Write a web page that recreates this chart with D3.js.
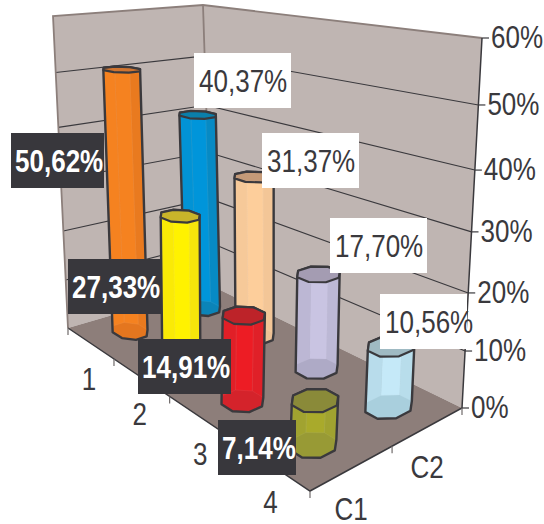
<!DOCTYPE html>
<html>
<head>
<meta charset="utf-8">
<script src="https://cdn.jsdelivr.net/npm/d3@7"></script>
<style>
  body { margin: 0; background: #fff; }
  text { font-family: "Liberation Sans", Arial, sans-serif; font-size: 31px; }
</style>
</head>
<body>
<svg id="chart" width="544" height="524"></svg>
<script>
// Data
var rowNames = ["1", "2", "3", "4"];
var seriesNames = ["C1", "C2"];
var c1Values = [50.62, 27.33, 14.91, 7.14];
var c2Values = [40.37, 31.37, 17.70, 10.56];
var pctTicks = [0, 10, 20, 30, 40, 50, 60];

var c1Body = ["#f58220", "#fff200", "#ed1c24", "#a9aa2b"];
var c1Edge = ["#e4761f", "#f0dd12", "#d4232b", "#989a35"];
var c1Cap = ["#cf7430", "#c8b42a", "#bd2329", "#8a8a39"];
var c2Body = ["#0095da", "#fdce9b", "#c9c4e2", "#c5e9f8"];
var c2Edge = ["#0b84b8", "#edc195", "#aeaac6", "#a9cfdd"];
var c2Cap = ["#0a7fab", "#c49a78", "#a49cb2", "#9fbac3"];

var svg = d3.select("#chart");
var dark = "#3a393d";

// corners of the 3d box on screen: floor first, then the 60% plane
var floorBox = { a: [68, 328], b: [310, 491], c: [462, 408], d: [212, 286] };
var topBox = { a: [53, 16], b: [332, 49], c: [482, 38], d: [203, 5] };

// rows run along the left floor edge, series along the right one.
// Bands get wider toward the viewer, and so do the upper value steps
var uScale = d3.scaleLinear().domain([0.5, 1.5, 2.5, 3.5, 4.5]).range([0, 0.19, 0.42, 0.69, 1]);
var vScale = d3.scaleLinear().domain([0.5, 1.5, 2.5]).range([0, 0.54, 1]);
var wScale = d3.scaleLinear().domain(pctTicks).range([0, 0.154, 0.311, 0.476, 0.643, 0.819, 1]);
var sizeScale = d3.scaleLinear().domain([0, 1]).range([0.8, 1.12]);

function bilinear(box, u, v) {
  return [0, 1].map(function(i) {
    var near = box.a[i] + (box.b[i] - box.a[i]) * u;
    var far = box.d[i] + (box.c[i] - box.d[i]) * u;
    return near + (far - near) * v;
  });
}

function project(u, v, w) {
  var p0 = bilinear(floorBox, u, v);
  var p1 = bilinear(topBox, u, v);
  return [p0[0] + (p1[0] - p0[0]) * w, p0[1] + (p1[1] - p0[1]) * w];
}

var line = d3.line();
function poly(pts) { return line(pts) + "Z"; }

// Walls and floor
svg.append("path")
  .attr("d", poly([project(0, 0, 0), project(0, 0, 1), project(0, 1, 1), project(0, 1, 0)]))
  .attr("fill", "#bfb5b2");
svg.append("path")
  .attr("d", poly([project(0, 1, 0), project(0, 1, 1), project(1, 1, 1), project(1, 1, 0)]))
  .attr("fill", "#bfb5b2");
svg.append("path")
  .attr("d", poly([project(0, 0, 0), project(1, 0, 0), project(1, 1, 0), project(0, 1, 0)]))
  .attr("fill", "#8d7e7a");

// gridlines across both walls
svg.append("g").selectAll("path")
  .data(pctTicks.filter(function(d) { return d > 0 && d < 60; }))
  .enter()
  .append("path")
    .attr("d", function(d) {
      var w = wScale(d);
      return line([project(0, 0, w), project(0, 1, w), project(1, 1, w)]);
    })
    .attr("fill", "none")
    .attr("stroke", dark)
    .attr("stroke-width", 1.1);

// wall frame
svg.append("path")
  .attr("d", line([project(0, 0, 0), project(0, 0, 1), project(0, 1, 1), project(1, 1, 1)]))
  .attr("fill", "none")
  .attr("stroke", "#8c7f7b")
  .attr("stroke-width", 1.8);
svg.append("path")
  .attr("d", line([project(0, 1, 1), project(0, 1, 0)]))
  .attr("stroke", "#8c7f7b")
  .attr("stroke-width", 1.8);
svg.append("path")
  .attr("d", line([project(1, 1, 1), project(1, 1, 0), project(1, 0, 0), project(0, 0, 0)]))
  .attr("fill", "none")
  .attr("stroke", dark)
  .attr("stroke-width", 1.5);

// Value axis
pctTicks.forEach(function(d) {
  var p = project(1, 1, wScale(d));
  svg.append("path")
    .attr("d", line([p, [p[0] + 7, p[1]]]))
    .attr("stroke", dark)
    .attr("stroke-width", 1.2);
  label(d + "%", p[0] + 9, p[1] + 10, "start", dark, false);
});

// Floor ticks and category names
var tickColor = "#6f6a6a";
[0.5, 1.5, 2.5, 3.5, 4.5].forEach(function(d) {
  var p = project(uScale(d), 0, 0);
  svg.append("path")
    .attr("d", line([p, [p[0], p[1] + 7]]))
    .attr("stroke", tickColor)
    .attr("stroke-width", 1.2);
});
[1.5, 2.5].forEach(function(d) {
  var p = project(1, vScale(d), 0);
  svg.append("path")
    .attr("d", line([p, [p[0], p[1] + 7]]))
    .attr("stroke", tickColor)
    .attr("stroke-width", 1.2);
});

rowNames.forEach(function(d, i) {
  var p = project(uScale(i + 1), 0, 0);
  label(d, p[0] - 2, p[1] + 47, "middle", dark, false);
});
seriesNames.forEach(function(d, i) {
  var p = project(1, vScale(i + 1), 0);
  label(d, p[0], p[1] + 51, "middle", dark, false);
});

// Bars, drawn from the back of the box to the front
var bars = [];
rowNames.forEach(function(d, i) {
  bars.push({ row: i + 1, col: 2, value: c2Values[i], body: c2Body[i], edge: c2Edge[i], cap: c2Cap[i] });
  bars.push({ row: i + 1, col: 1, value: c1Values[i], body: c1Body[i], edge: c1Edge[i], cap: c1Cap[i] });
});

var sides = d3.range(8);
bars.forEach(function(b) {
  var u = uScale(b.row), v = vScale(b.col), w = wScale(b.value);
  var k = sizeScale(u);
  var ring = function(h) {
    return sides.map(function(i) {
      var t = (i + 0.5) * Math.PI / 4;
      return project(u + 0.06 * k * Math.cos(t), v + 0.115 * k * Math.sin(t), h);
    });
  };
  var low = ring(0), high = ring(w);
  var g = svg.append("g");
  var hull = d3.polygonHull(low.concat(high));
  var xs = d3.extent(hull, function(p) { return p[0]; });
  var mid = (xs[0] + xs[1]) / 2, half = (xs[1] - xs[0]) / 2;

  g.append("path").attr("d", poly(hull)).attr("fill", b.edge);

  sides.forEach(function(i) {
    var j = (i + 1) % 8;
    var quad = [low[i], low[j], high[j], high[i]];
    if (d3.polygonArea(quad) >= 0) return;
    var cx = (low[i][0] + low[j][0]) / 2;
    var s = Math.min(1, 1.5 * (1 - Math.abs(cx - mid) / half));
    g.append("path")
      .attr("d", poly(quad))
      .attr("fill", d3.interpolateRgb(b.edge, b.body)(s))
      .attr("stroke", d3.interpolateRgb(b.edge, "#fff")(0.25))
      .attr("stroke-opacity", 0.35)
      .attr("stroke-width", 0.7);
  });

  g.append("path")
    .attr("d", poly(hull))
    .attr("fill", "none")
    .attr("stroke", dark)
    .attr("stroke-width", 2.4)
    .attr("stroke-linejoin", "round");
  g.append("path")
    .attr("d", poly(high))
    .attr("fill", b.cap)
    .attr("stroke", dark)
    .attr("stroke-width", 2.2)
    .attr("stroke-linejoin", "round");
});

// Value boxes, placed by hand so they clear the bars
function formatPct(v) { return v.toFixed(2).replace(".", ",") + "%"; }

valueBox(c1Values[0], 11, 133, 93, 55, true);
valueBox(c1Values[1], 68, 259, 94, 55, true);
valueBox(c1Values[2], 138, 339, 93, 55, true);
valueBox(c1Values[3], 218, 420, 78, 55, true);
valueBox(c2Values[0], 194, 53, 97, 55, false);
valueBox(c2Values[1], 262, 133, 97, 55, false);
valueBox(c2Values[2], 330, 218, 97, 55, false);
valueBox(c2Values[3], 380, 294, 87, 55, false);

function valueBox(v, x, y, w, h, inverted) {
  svg.append("rect")
    .attr("x", x).attr("y", y)
    .attr("width", w).attr("height", h)
    .attr("fill", inverted ? "#38373c" : "#fff");
  label(formatPct(v), x + (inverted ? 4 : 5), y + 39, "start", inverted ? "#fff" : dark, inverted);
}

// all chart text is set slightly condensed
function label(str, x, y, anchor, color, bold) {
  svg.append("text")
    .attr("transform", "translate(" + x + "," + y + ") scale(0.84,1)")
    .attr("text-anchor", anchor)
    .attr("fill", color)
    .attr("font-weight", bold ? "bold" : "normal")
    .text(str);
}
</script>
</body>
</html>
